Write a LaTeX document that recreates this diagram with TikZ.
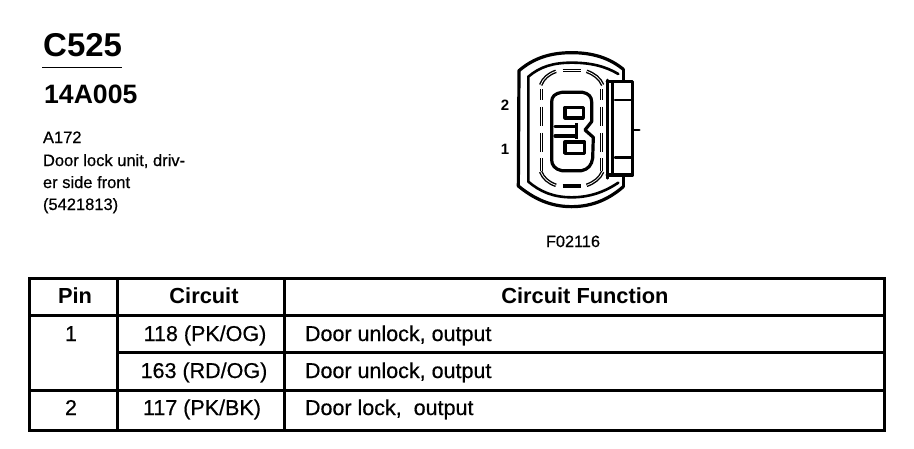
\documentclass[tikz,border=0pt]{standalone}
\usepackage{fontspec}
\setmainfont{Liberation Sans}
\tikzset{
  rule/.style={line width=3pt,line cap=square},
  txt/.style={inner sep=0pt,outer sep=0pt,font=\fontsize{21.5}{21.5}\selectfont\addfontfeatures{FakeBold=0.5}},
  head/.style={inner sep=0pt,outer sep=0pt,font=\fontsize{21.8}{22}\selectfont\bfseries},
  cellL/.style={txt,anchor=base west},
  cellC/.style={txt,anchor=base},
  small/.style={inner sep=0pt,outer sep=0pt,anchor=base west,font=\fontsize{16.5}{16.5}\selectfont\addfontfeatures{FakeBold=0.5}},
  conn/.style={line width=2.6pt,line join=round,line cap=round},
  connthick/.style={line width=3.2pt,line join=round,line cap=round},
  seg/.style={line width=1.4pt,double=white,double distance=0.8pt,line cap=butt},
}
\begin{document}
\begin{tikzpicture}[x=1pt,y=-1pt]
\useasboundingbox (0,0) rectangle (914,448);
\fill[white] (0,0) rectangle (914,448);
% titles
\node[inner sep=0pt,anchor=base west,font=\fontsize{33}{33}\selectfont\bfseries] (title) at (43,56) {C525};
\draw[line width=1.3pt] (42,67.5) -- (122,67.5);
\node[inner sep=0pt,anchor=base west,font=\fontsize{26.6}{27}\selectfont\bfseries] (part) at (44,103) {14A005};
\node[small] (d1) at (43,143) {A172};
\node[small] (d2) at (43,166) {Door lock unit, driv-};
\node[small] (d3) at (43,188) {er side front};
\node[small] (d4) at (43,210) {(5421813)};
% connector
\node[inner sep=0pt,anchor=base,font=\fontsize{15}{15}\selectfont\bfseries] (p2) at (505,110) {2};
\node[inner sep=0pt,anchor=base,font=\fontsize{15}{15}\selectfont\bfseries] (p1) at (505,154) {1};
\node[inner sep=0pt,anchor=base,font=\fontsize{16.3}{16}\selectfont\addfontfeatures{FakeBold=0.5}] (fig) at (573,247) {F02116};
\begin{scope}[shift={(490,50)},x=0.3333pt,y=-0.3333pt]
  % outer shell
  \draw[connthick] (400,58) .. controls (360,25) and (310,8) .. (245,8)
     .. controls (180,8) and (130,25) .. (87,62) -- (85,408)
     .. controls (130,445) and (180,470) .. (245,470)
     .. controls (310,470) and (360,445) .. (400,410);
  \draw[conn] (400,58) -- (400,95);
  \draw[conn] (400,375) -- (400,410);
  % second shell
  \draw[conn] (385,72) .. controls (345,48) and (300,38) .. (245,38)
     .. controls (190,38) and (150,50) .. (115,80) -- (115,395)
     .. controls (150,425) and (190,442) .. (245,442)
     .. controls (300,442) and (345,425) .. (385,398);
  % right wall
  \draw[conn] (352,90) -- (352,385);
  % latch
  \draw[connthick] (352,95) -- (428,95) -- (428,375) -- (352,375);
  \draw[conn] (368,95) -- (368,375);
  \draw[conn] (375,150) -- (428,150);
  \draw[conn] (375,322) -- (428,322);
  \draw[conn] (428,240) -- (448,240);
  % dashed inner wall
  \draw[seg] (152,105) .. controls (160,85) and (175,72) .. (198,64);
  \draw[seg] (218,62) -- (272,62);
  \draw[seg] (290,64) .. controls (312,72) and (330,85) .. (338,105);
  \draw[seg] (155,118) -- (155,150);
  \draw[seg] (155,170) -- (155,228);
  \draw[seg] (155,248) -- (155,306);
  \draw[seg] (155,325) -- (155,362);
  \draw[seg] (335,118) -- (335,150);
  \draw[seg] (335,170) -- (335,228);
  \draw[seg] (335,248) -- (335,306);
  \draw[seg] (335,325) -- (335,362);
  \draw[seg] (152,365) .. controls (160,385) and (175,398) .. (198,406);
  \draw[line width=3.4pt] (218,408) -- (272,408);
  \draw[seg] (290,406) .. controls (312,398) and (330,385) .. (338,365);
  % cavity
  \draw[connthick] (215,127) -- (278,127) .. controls (295,130) and (305,140) .. (305,155)
     -- (305,215) -- (285,240) -- (310,262) -- (308,325)
     .. controls (305,345) and (295,358) .. (275,362) -- (215,362)
     .. controls (195,358) and (185,345) .. (185,330) -- (185,155)
     .. controls (185,140) and (195,130) .. (215,127) -- cycle;
  % contacts
  \draw[connthick] (225,172) rectangle (280,204);
  \draw[connthick] (225,276) rectangle (284,310);
  \draw[connthick] (195,230) -- (260,230) -- (260,258) -- (195,258);
  \draw[line width=3.4pt] (260,220) -- (260,268);
\end{scope}
% table
\coordinate (tl) at (29,278);
\coordinate (tr) at (884,278);
\coordinate (bl) at (29,430);
\coordinate (br) at (884,430);
\draw[rule] (tl) -- (tr) -- (br) -- (bl) -- cycle;
\draw[rule] (117,278) -- (117,430);
\draw[rule] (284,278) -- (284,430);
\draw[rule] (29,315) -- (884,315);
\draw[rule] (117,352) -- (884,352);
\draw[rule] (29,390) -- (884,390);
\node[head,anchor=base] (hp) at (75,303) {Pin};
\node[head,anchor=base] (hc) at (204,303) {Circuit};
\node[head,anchor=base] (hf) at (585,303) {Circuit Function};
\node[cellC] (r1p) at (71,341) {1};
\node[cellC] (r1c) at (205,341) {118 (PK/OG)};
\node[cellL] (r1f) at (305,341) {Door unlock, output};
\node[cellC] (r2c) at (204,378) {163 (RD/OG)};
\node[cellL] (r2f) at (305,378) {Door unlock, output};
\node[cellC] (r3p) at (71,415) {2};
\node[cellC] (r3c) at (202,415) {117 (PK/BK)};
\node[cellL] (r3f) at (305,415) {Door lock,\ \ output};
\end{tikzpicture}
\end{document}
